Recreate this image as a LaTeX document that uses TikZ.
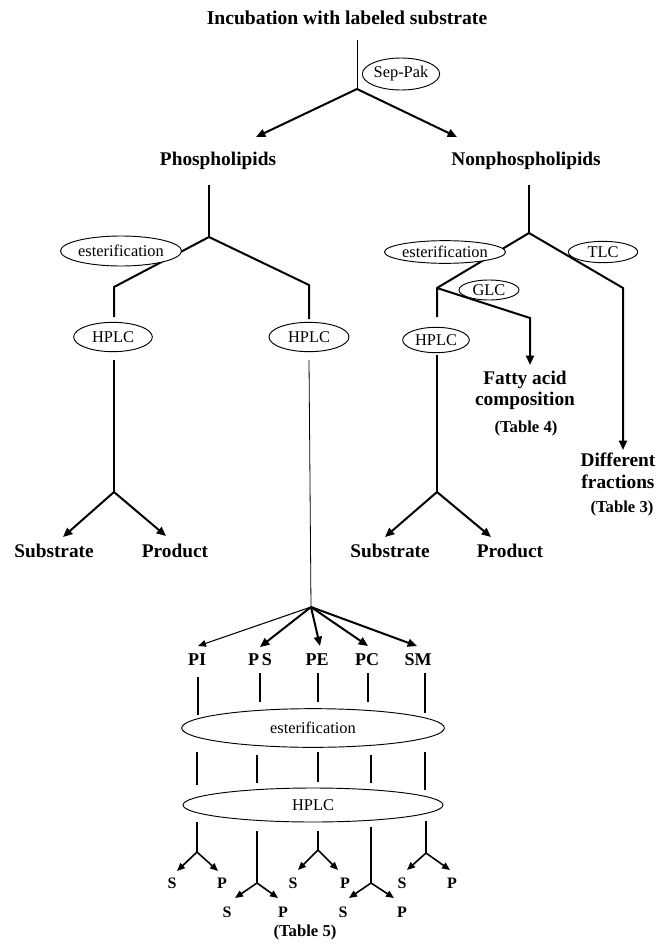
\documentclass[tikz,border=0pt]{standalone}
\usepackage{fontspec}
\setmainfont{Liberation Serif}
\usetikzlibrary{shapes.geometric,arrows.meta}

\tikzset{
  proc/.style={draw, ellipse, fill=white, inner sep=0pt, line width=0.7pt,
    font=\fontsize{12.3}{14}\selectfont},
  lbl/.style={font=\fontsize{14.5}{16}\selectfont\bfseries, align=center, inner sep=0pt},
  tbl/.style={font=\fontsize{12.5}{14}\selectfont\bfseries, inner sep=0pt},
  sp/.style={font=\fontsize{12}{14}\selectfont\bfseries, inner sep=0pt},
  thinln/.style={line width=0.6pt},
  ln/.style={line width=0.9pt},
  thk/.style={line width=1.5pt},
  arr/.style={line width=1.5pt, -{Triangle[length=7pt,width=6pt]}},
  sarr/.style={line width=1.2pt, -{Triangle[length=6pt,width=5pt]}},
}

\begin{document}
\begin{tikzpicture}[x=0.75pt, y=-0.75pt]
  \useasboundingbox (0,0) rectangle (661,949);

  % top
  \node[lbl, font=\fontsize{14.7}{16}\selectfont\bfseries] (title) at (347,18) {Incubation with labeled substrate};
  \coordinate (t0) at (357,40);
  \coordinate (sep) at (357,89);
  \coordinate (phtip) at (256,137);
  \coordinate (nptip) at (457,137);
  \draw[thinln] (t0) -- (sep);
  \draw[arr] (sep) -- (phtip);
  \draw[arr] (sep) -- (nptip);
  \node[proc, minimum width=58pt, minimum height=24pt] (seppak) at (401,74) {Sep-Pak};
  \node[lbl] (phos) at (218,161) {Phospholipids};
  \node[lbl] (nonphos) at (526,161) {Nonphospholipids};

  % phospholipids
  \coordinate (p0) at (209,185);
  \coordinate (pj) at (209,237);
  \coordinate (pl1) at (114,287);
  \coordinate (pl2) at (114,317);
  \coordinate (pr1) at (309,285);
  \coordinate (pr2) at (309,319);
  \draw[ln] (p0) -- (pj);
  \draw[thk] (pj) -- (pl1) -- (pl2);
  \draw[thk] (pj) -- (pr1) -- (pr2);
  \node[proc, minimum width=76pt, minimum height=22.5pt] (est1) at (121,251) {esterification};
  \node[proc, minimum width=59pt, minimum height=22pt] (hplc1) at (113,337) {HPLC};
  \node[proc, minimum width=60pt, minimum height=22pt] (hplc2) at (309,337) {HPLC};

  \coordinate (h1a) at (114,360);
  \coordinate (h1j) at (114,492);
  \coordinate (s1tip) at (63,537);
  \coordinate (p1tip) at (166,536);
  \draw[ln] (h1a) -- (h1j);
  \draw[arr] (h1j) -- (s1tip);
  \draw[arr] (h1j) -- (p1tip);
  \node[lbl] (sub1) at (54,551) {Substrate};
  \node[lbl] (prod1) at (175,551) {Product};

  % nonphospholipids
  \coordinate (n0) at (529,185);
  \coordinate (nj) at (529,233);
  \coordinate (nl1) at (437,288);
  \coordinate (nl2) at (437,317);
  \coordinate (nr1) at (623,288);
  \coordinate (nrtip) at (623,450);
  \coordinate (g1) at (530,318);
  \coordinate (gtip) at (530,365);
  \draw[ln] (n0) -- (nj);
  \draw[thk] (nj) -- (nl1) -- (nl2);
  \draw[arr] (nj) -- (nr1) -- (nrtip);
  \draw[arr] (nl1) -- (g1) -- (gtip);
  \node[proc, minimum width=82pt, minimum height=17pt] (est2) at (445,252) {esterification};
  \node[proc, minimum width=52pt, minimum height=16pt] (tlc) at (603,252) {TLC};
  \node[proc, minimum width=45pt, minimum height=15pt] (glc) at (489,290) {GLC};
  \node[proc, minimum width=50pt, minimum height=19pt] (hplc3) at (436,340) {HPLC};

  \node[lbl, font=\fontsize{14.5}{15.8}\selectfont\bfseries] (fatty) at (525,390) {Fatty acid\\composition};
  \node[tbl] (tab4) at (526,428) {(Table 4)};
  \node[lbl, font=\fontsize{14.5}{16.5}\selectfont\bfseries] (diff) at (618,471) {Different\\fractions};
  \node[tbl] (tab3) at (622,508) {(Table 3)};

  \coordinate (h3a) at (437,355);
  \coordinate (h3j) at (437,492);
  \coordinate (s2tip) at (385,537);
  \coordinate (p2tip) at (491,537);
  \draw[ln] (h3a) -- (h3j);
  \draw[arr] (h3j) -- (s2tip);
  \draw[arr] (h3j) -- (p2tip);
  \node[lbl] (sub2) at (390,551) {Substrate};
  \node[lbl] (prod2) at (510,551) {Product};

  % classes
  \coordinate (h2a) at (309,360);
  \coordinate (cj) at (311,607);
  \draw[thinln] (h2a) -- (cj);
  \node[lbl, font=\fontsize{13.5}{15}\selectfont\bfseries] (pi) at (197,660) {PI};
  \node[lbl, font=\fontsize{13.5}{15}\selectfont\bfseries] (ps) at (260,660) {P\,S};
  \node[lbl, font=\fontsize{13.5}{15}\selectfont\bfseries] (pe) at (317,660) {PE};
  \node[lbl, font=\fontsize{13.5}{15}\selectfont\bfseries] (pc) at (367,660) {PC};
  \node[lbl, font=\fontsize{13.5}{15}\selectfont\bfseries] (sm) at (418,660) {SM};
  \draw[line width=0.8pt, -{Triangle[length=6pt,width=5pt]}] (cj) -- (198,646) coordinate (pitip);
  \draw[arr] (cj) -- (260,647) coordinate (pstip);
  \draw[arr] (cj) -- (320,646) coordinate (petip);
  \draw[arr] (cj) -- (368,646) coordinate (pctip);
  \draw[arr] (cj) -- (417,646) coordinate (smtip);

  % short links round the two big ellipses
  \draw[ln] (198,677) coordinate (a1) -- (198,715) coordinate (a2);
  \draw[ln] (260,673) coordinate (b1) -- (260,702) coordinate (b2);
  \draw[ln] (318,673) coordinate (c1) -- (318,702) coordinate (c2);
  \draw[ln] (368,673) coordinate (d1) -- (368,702) coordinate (d2);
  \draw[ln] (425,673) coordinate (e1) -- (425,713) coordinate (e2);
  \draw[ln] (197,752) coordinate (a3) -- (197,785) coordinate (a4);
  \draw[ln] (257,755) coordinate (b3) -- (257,783) coordinate (b4);
  \draw[ln] (318,752) coordinate (c3) -- (318,782) coordinate (c4);
  \draw[ln] (371,755) coordinate (d3) -- (371,783) coordinate (d4);
  \draw[ln] (425,752) coordinate (e3) -- (425,790) coordinate (e4);
  \node[proc, minimum width=197pt, minimum height=29pt] (est3) at (313,728) {esterification};
  \node[proc, minimum width=195pt, minimum height=25.5pt] (hplc4) at (313,805) {HPLC};

  % substrate / product forks
  \foreach \n/\x/\ya/\yj/\sx/\px/\yt/\yl/\slx/\plx in {
      pi/197/822/852/177/218/871/883/172/222,
      ps/257/831/883/235/278/898/912/227/283,
      pe/318/831/850/298/338/870/883/293/345,
      pc/371/827/883/349/394/898/912/343/402,
      sm/426/821/853/407/450/870/883/402/452}{
    \coordinate (\n top) at (\x,\ya);
    \coordinate (\n j) at (\x,\yj);
    \draw[ln] (\n top) -- (\n j);
    \draw[sarr] (\n j) -- (\sx,\yt);
    \draw[sarr] (\n j) -- (\px,\yt);
    \node[sp] (\n s) at (\slx,\yl) {S};
    \node[sp] (\n p) at (\plx,\yl) {P};
  }
  \node[tbl] (tab5) at (305,932) {(Table 5)};
\end{tikzpicture}
\end{document}
